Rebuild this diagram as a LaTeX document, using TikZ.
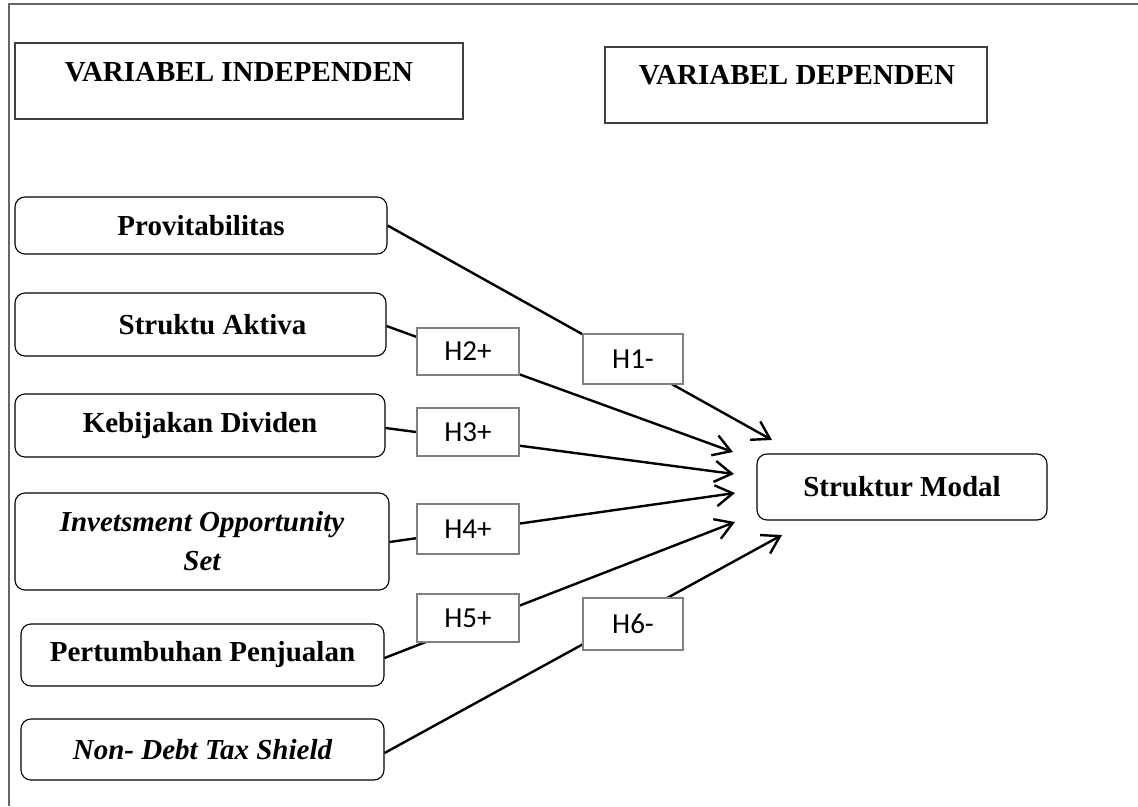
\documentclass[tikz,border=0pt]{standalone}
\usepackage{fontspec}
\setmainfont{Liberation Serif}
\newfontfamily\calib{Carlito}
\usetikzlibrary{arrows.meta}
\begin{document}
\begin{tikzpicture}[x=1pt,y=-1pt,
  frameline/.style={draw=black!60, line width=1.3pt},
  titlebox/.style={draw=black!75, line width=1.2pt, inner sep=0pt},
  titletext/.style={font=\fontsize{29}{36}\selectfont\bfseries, inner sep=0pt},
  varbox/.style={draw=black, line width=1.1pt, rounded corners=10pt, inner sep=0pt,
    font=\fontsize{29}{39}\selectfont\bfseries, align=center},
  hbox/.style={draw=black!50, line width=1.4pt, fill=white, inner sep=0pt,
    font=\fontsize{29}{36}\selectfont\calib},
  link/.style={draw=black, line width=2.4pt,
    -{Straight Barb[length=17pt,width=21pt,line width=2.4pt]}}
]
\useasboundingbox (0,0) rectangle (1138,806);
% frame
\draw[frameline] (9,806) -- (9,4) -- (1138,4);

% titles
\node[titlebox, minimum width=448pt, minimum height=76pt] (indbox) at (239,81) {};
\node[titletext] (indtxt) at (239,72) {VARIABEL INDEPENDEN};
\node[titlebox, minimum width=382pt, minimum height=76pt] (depbox) at (796,85) {};
\node[titletext] (deptxt) at (797,75) {VARIABEL DEPENDEN};

% independent variables
\node[varbox, minimum width=372pt, minimum height=57pt] (prov) at (201,225.5) {Provitabilitas};
\node[varbox, minimum width=371pt, minimum height=63pt] (struk) at (200.5,324.5) {\hspace*{24pt}Struktu Aktiva};
\node[varbox, minimum width=370pt, minimum height=63pt] (kebij) at (200,425.5) {Kebijakan Dividen};
\node[varbox, minimum width=374pt, minimum height=97pt, font=\fontsize{29}{39}\selectfont\bfseries\itshape] (inv) at (202,541.5) {Invetsment Opportunity\\Set};
\node[varbox, minimum width=363pt, minimum height=62pt] (pert) at (202.5,655) {Pertumbuhan Penjualan};
\node[varbox, minimum width=363pt, minimum height=61pt, font=\fontsize{29}{39}\selectfont\bfseries\itshape] (ndts) at (202.5,749.5) {Non- Debt Tax Shield};

% dependent variable
\node[varbox, minimum width=290pt, minimum height=66pt] (sm) at (902,487) {Struktur Modal};

% arrow tips (free ends)
\coordinate (t1) at (772,440);
\coordinate (t2) at (733,452);
\coordinate (t3) at (734,474);
\coordinate (t4) at (735,493);
\coordinate (t5) at (735,522);
\coordinate (t6) at (782,535);

% connectors
\draw[link] (prov.east) -- (t1);
\draw[link] ([yshift=-1.5pt]struk.east) -- (t2);
\draw[link] ([yshift=-2.5pt]kebij.east) -- (t3);
\draw[link] ([yshift=-0.5pt]inv.east) -- (t4);
\draw[link] ([yshift=-3pt]pert.east) -- (t5);
\draw[link] ([yshift=-3.5pt]ndts.east) -- (t6);

% hypothesis labels
\node[hbox, minimum width=100pt, minimum height=50pt] (h1) at (633,359) {H1-};
\node[hbox, minimum width=102pt, minimum height=47pt] (h2) at (468,351.5) {H2+};
\node[hbox, minimum width=102pt, minimum height=48pt] (h3) at (468,432) {H3+};
\node[hbox, minimum width=102pt, minimum height=50pt] (h4) at (468,529) {H4+};
\node[hbox, minimum width=102pt, minimum height=48pt] (h5) at (468,618) {H5+};
\node[hbox, minimum width=100pt, minimum height=52pt] (h6) at (633,624) {H6-};
\end{tikzpicture}
\end{document}
